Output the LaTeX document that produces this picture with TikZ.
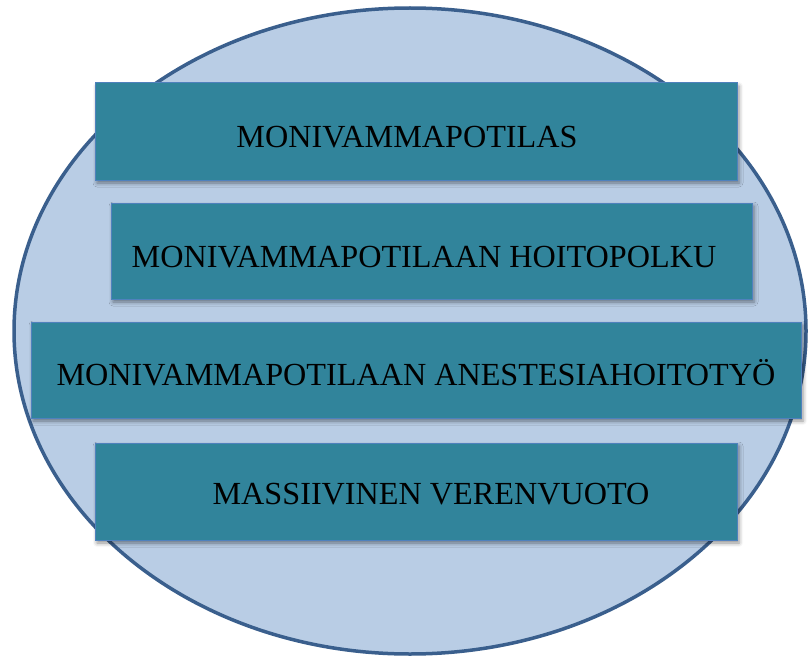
\documentclass[tikz,border=0pt]{standalone}
\usepackage{fontspec}
\setmainfont{Liberation Serif}
\usetikzlibrary{shadows.blur,shapes.geometric}
\definecolor{ellfill}{HTML}{B9CDE5}
\definecolor{elldraw}{HTML}{3A5F8D}
\definecolor{boxfill}{HTML}{31849B}
\definecolor{boxdraw}{HTML}{4F81BD}
\tikzset{
  bar/.style={draw=boxdraw, line width=1pt, fill=boxfill, inner sep=0pt, outer sep=0pt,
    blur shadow={shadow xshift=2pt, shadow yshift=-3pt, shadow blur radius=4pt, shadow opacity=45}},
  lbl/.style={font=\fontsize{32.2}{38}\selectfont, text=black, inner sep=0pt, anchor=base}
}
\begin{document}
\begin{tikzpicture}[x=1pt,y=-1pt]
\useasboundingbox (0,0) rectangle (808,658);
\node[ellipse, draw=elldraw, line width=3.5pt, fill=ellfill, minimum width=792pt, minimum height=646pt, inner sep=0pt] (ell) at (410,331) {};
\node[bar, minimum width=642pt, minimum height=97pt] (b1) at (416,131.5) {};
\node[bar, minimum width=641pt, minimum height=96pt] (b2) at (431.5,251) {};
\node[bar, minimum width=770pt, minimum height=96pt] (b3) at (416,370) {};
\node[bar, minimum width=642pt, minimum height=97pt] (b4) at (416,491.5) {};
\node[lbl] (t1) at (407,147) {MONIVAMMAPOTILAS};
\node[lbl] (t2) at (424,267) {MONIVAMMAPOTILAAN HOITOPOLKU};
\node[lbl] (t3) at (416,385) {MONIVAMMAPOTILAAN ANESTESIAHOITOTYÖ};
\node[lbl] (t4) at (431,504) {MASSIIVINEN VERENVUOTO};
\end{tikzpicture}
\end{document}
